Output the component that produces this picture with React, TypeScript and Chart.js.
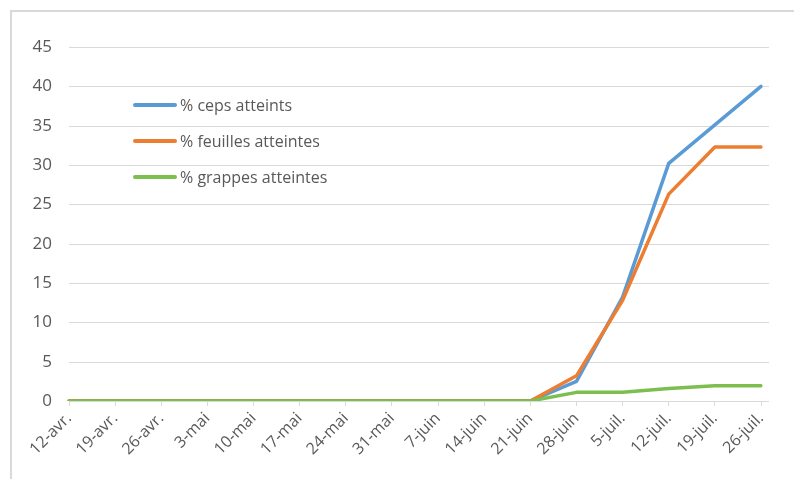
import React, { useEffect, useRef } from "react";
import { Chart, registerables } from "chart.js";

Chart.register(...registerables);

const categories = [
  "12-avr.", "19-avr.", "26-avr.", "3-mai", "10-mai", "17-mai", "24-mai", "31-mai",
  "7-juin", "14-juin", "21-juin", "28-juin", "5-juil.", "12-juil.", "19-juil.", "26-juil.",
];
const ceps = [0, 0, 0, 0, 0, 0, 0, 0, 0, 0, 0, 2.5, 13.2, 30.2, 35.1, 40];
const feuilles = [0, 0, 0, 0, 0, 0, 0, 0, 0, 0, 0, 3.2, 12.8, 26.3, 32.3, 32.3];
const grappes = [0, 0, 0, 0, 0, 0, 0, 0, 0, 0, 0, 1.1, 1.1, 1.6, 1.95, 1.95];
const seriesNames = ["% ceps atteints", "% feuilles atteintes", "% grappes atteintes"];
const colors = ["#5B9BD5", "#ED7D31", "#7CBF4E"];
const yMax = 45;
const yStep = 5;

const FONT = "'Open Sans', 'Noto Sans', sans-serif";
const TEXT = "#595959";
const GRID = "#d9d9d9";

const gridPlugin = {
  id: "extGrid",
  beforeDatasetsDraw(chart: any) {
    const { ctx, chartArea, scales } = chart;
    const y = scales.y;
    ctx.save();
    ctx.strokeStyle = GRID;
    ctx.lineWidth = 1;
    y.ticks.forEach((t: any) => {
      const py = Math.round(y.getPixelForValue(t.value)) + 0.5;
      ctx.beginPath();
      ctx.moveTo(chartArea.left, py);
      ctx.lineTo(chartArea.right + 8, py);
      ctx.stroke();
    });
    ctx.restore();
  },
};

export default function App() {
  const ref = useRef<HTMLCanvasElement>(null);
  useEffect(() => {
    document.body.style.margin = "0";
    const data = [ceps, feuilles, grappes];
    const chart = new Chart(ref.current!, {
      type: "line",
      data: {
        labels: categories,
        datasets: data.map((d, i) => ({
          label: seriesNames[i],
          data: d,
          borderColor: colors[i],
          backgroundColor: colors[i],
          borderWidth: 3.5,
          pointRadius: 0,
          tension: 0,
          borderCapStyle: "round",
          borderJoinStyle: "round",
          order: 3 - i,
        })),
      },
      options: {
        animation: false,
        responsive: false,
        maintainAspectRatio: false,
        layout: { padding: { left: 0, right: 33, top: 47, bottom: 0 } },
        plugins: { legend: { display: false }, tooltip: { enabled: false } },
        scales: {
          x: {
            offset: false,
            border: { display: false },
            grid: { drawOnChartArea: false, drawTicks: true, tickLength: 5, color: GRID },
            ticks: {
              autoSkip: false,
              maxRotation: 45,
              minRotation: 45,
              padding: 3,
              color: TEXT,
              font: { family: FONT, size: 16 },
            },
            afterFit: (s: any) => { s.height = 78; },
          },
          y: {
            min: 0,
            max: yMax,
            border: { display: false },
            grid: { display: false },
            ticks: {
              stepSize: yStep,
              padding: 9,
              color: TEXT,
              font: { family: FONT, size: 17 },
            },
            afterFit: (s: any) => { s.width = 69; },
          },
        },
      },
      plugins: [gridPlugin],
    });
    return () => chart.destroy();
  }, []);

  const legendY = [105, 141, 177];
  return (
    <div style={{ position: "fixed", left: 0, top: 0, width: 794, height: 479, background: "#fff", overflow: "hidden" }}>
      <div style={{ position: "absolute", left: 10, top: 10, width: 800, height: 480, borderTop: `2px solid ${GRID}`, borderLeft: `2px solid ${GRID}` }} />
      <canvas ref={ref} width={794} height={479} style={{ position: "absolute", left: 0, top: 0 }} />
      {seriesNames.map((n, i) => (
        <div key={n} style={{ position: "absolute", left: 133, top: legendY[i] - 12, height: 24, display: "flex", alignItems: "center", fontFamily: FONT, fontSize: 16, color: TEXT, whiteSpace: "nowrap" }}>
          <span style={{ display: "inline-block", width: 44, height: 4, background: colors[i], borderRadius: 2, marginRight: 3 }} />
          <span>{n}</span>
        </div>
      ))}
    </div>
  );
}
